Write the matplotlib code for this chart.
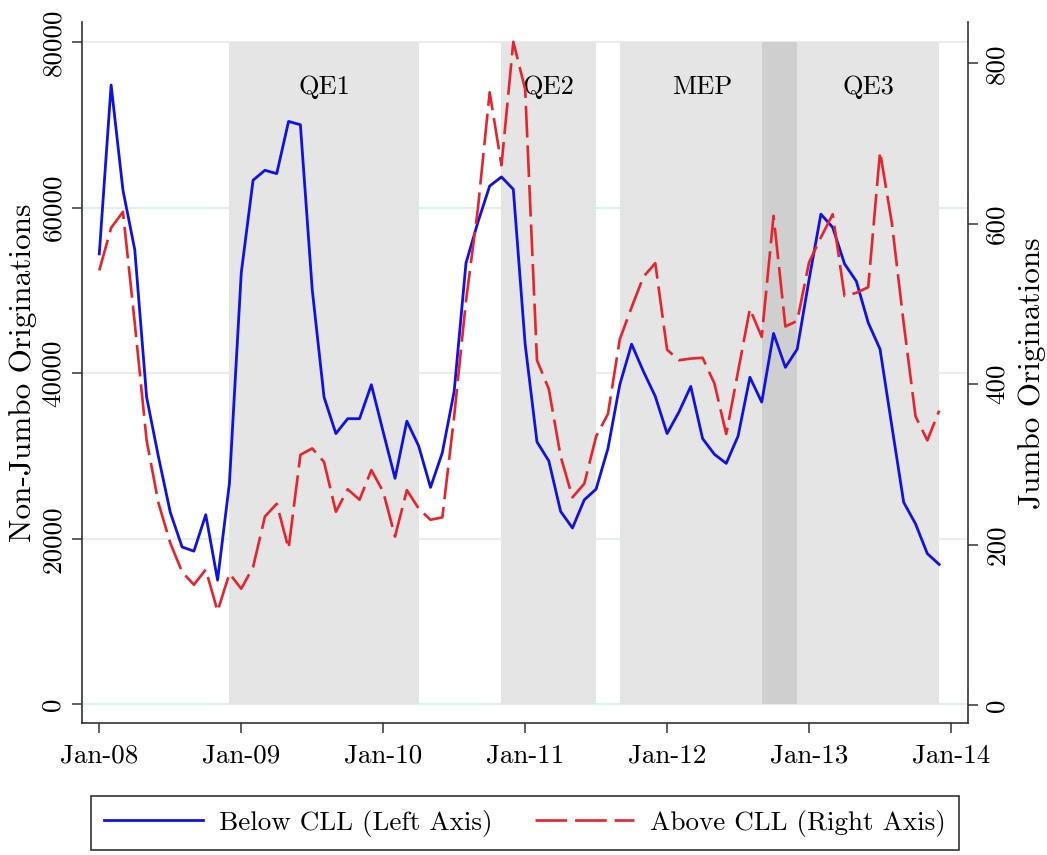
import numpy as np
import matplotlib.pyplot as plt

plt.rcParams['font.family'] = ['cmr10', 'DejaVu Serif']
plt.rcParams['axes.unicode_minus'] = False

# monthly originations, Jan-08 .. Dec-13
below_cll = [54400, 74800, 62100, 54900, 37100, 29900, 23200, 19000, 18500, 22900, 15000, 26700,
             52100, 63300, 64500, 64100, 70400, 70000, 50100, 37100, 32700, 34500, 34500, 38600,
             32900, 27300, 34200, 31200, 26200, 30400, 37800, 53300, 58200, 62600, 63700, 62200,
             43500, 31700, 29400, 23300, 21300, 24700, 26000, 30900, 38600, 43500, 40200, 37200,
             32700, 35300, 38400, 32100, 30200, 29100, 32400, 39500, 36500, 44800, 40700, 42900,
             51300, 59200, 57600, 53200, 51100, 46100, 42900, 33600, 24400, 21800, 18200, 16900]
above_cll = [542, 595, 615, 476, 330, 252, 202, 166, 150, 169, 117, 164,
             145, 172, 235, 251, 195, 312, 320, 303, 241, 269, 256, 293,
             266, 210, 268, 245, 231, 234, 360, 504, 618, 764, 673, 827,
             768, 430, 394, 310, 259, 276, 335, 363, 456, 496, 534, 551,
             443, 430, 432, 433, 401, 338, 416, 494, 459, 610, 472, 479,
             552, 583, 612, 510, 514, 521, 690, 601, 476, 360, 330, 367]
year_labels = ['Jan-08', 'Jan-09', 'Jan-10', 'Jan-11', 'Jan-12', 'Jan-13', 'Jan-14']

# policy windows (month index from Jan-08)
programs = ['QE1', 'QE2', 'MEP', 'QE3']
prog_start = [11, 34, 44, 56]
prog_end = [27, 42, 59, 71]
prog_label_x = [19, 38, 51, 65]

months = np.arange(len(below_cll))
light = '#e5e5e5'
dark = '#cfcfcf'

fig = plt.figure(figsize=(10.47, 8.55), dpi=100)
ax = fig.add_axes([0.078, 0.154, 0.8468, 0.8202])
ax2 = ax.twinx()

ax.set_axisbelow(True)
ax.yaxis.grid(True, color='#e6edef', lw=1.5)

for s, e in zip(prog_start, prog_end):
    ax.fill_between([s, e], 0, 80000, color=light, lw=0, zorder=1)
# darker where two programs overlap
for i in range(len(programs)):
    for j in range(i + 1, len(programs)):
        lo = max(prog_start[i], prog_start[j])
        hi = min(prog_end[i], prog_end[j])
        if lo < hi:
            ax.fill_between([lo, hi], 0, 80000, color=dark, lw=0, zorder=1.5)
for name, x in zip(programs, prog_label_x):
    ax.text(x, 74500, name, ha='center', va='center', fontsize=19, zorder=3)

l1, = ax.plot(months, below_cll, color='#1010e8', lw=2.0, zorder=4)
l2, = ax2.plot(months, above_cll, color='#e8232b', lw=1.9, dashes=(12, 3))

ax.set_xlim(-1.49, 73.46)
ax.set_ylim(-2295, 82403)
ax2.set_ylim(-22.8, 851.6)

ax.set_xticks(np.arange(0, 73, 12))
ax.set_xticklabels(year_labels)
ax.set_yticks([0, 20000, 40000, 60000, 80000])
ax.set_yticklabels(['0', '20000', '40000', '60000', '80000'], rotation=90, va='center')
ax2.set_yticks([0, 200, 400, 600, 800])
ax2.set_yticklabels(['0', '200', '400', '600', '800'], rotation=90, va='center')

for a in (ax, ax2):
    a.tick_params(axis='both', direction='out', length=7, width=1.1, labelsize=19.5,
                  color='#333333', pad=5)
    a.spines['top'].set_visible(False)
ax.tick_params(axis='x', pad=8)
ax.spines['right'].set_visible(False)
ax2.spines['left'].set_visible(False)
ax2.spines['bottom'].set_visible(False)
for sp in ('left', 'bottom'):
    ax.spines[sp].set_color('#333333')
    ax.spines[sp].set_linewidth(1.2)
ax2.spines['right'].set_color('#333333')
ax2.spines['right'].set_linewidth(1.2)

ax.set_ylabel('Non-Jumbo Originations', fontsize=22.5, labelpad=3)
ax2.set_ylabel('Jumbo Originations', fontsize=22.5, labelpad=7)

leg = fig.legend([l1, l2], ['Below CLL (Left Axis)', 'Above CLL (Right Axis)'],
                 loc='center', bbox_to_anchor=(0.5014, 0.0374), ncol=2,
                 fontsize=19.5, frameon=True, fancybox=False, edgecolor='black',
                 handlelength=3.65, handletextpad=0.6, columnspacing=1.56, borderpad=0.5)
leg.get_frame().set_linewidth(1.2)

fig.savefig('out.png', dpi=100)
